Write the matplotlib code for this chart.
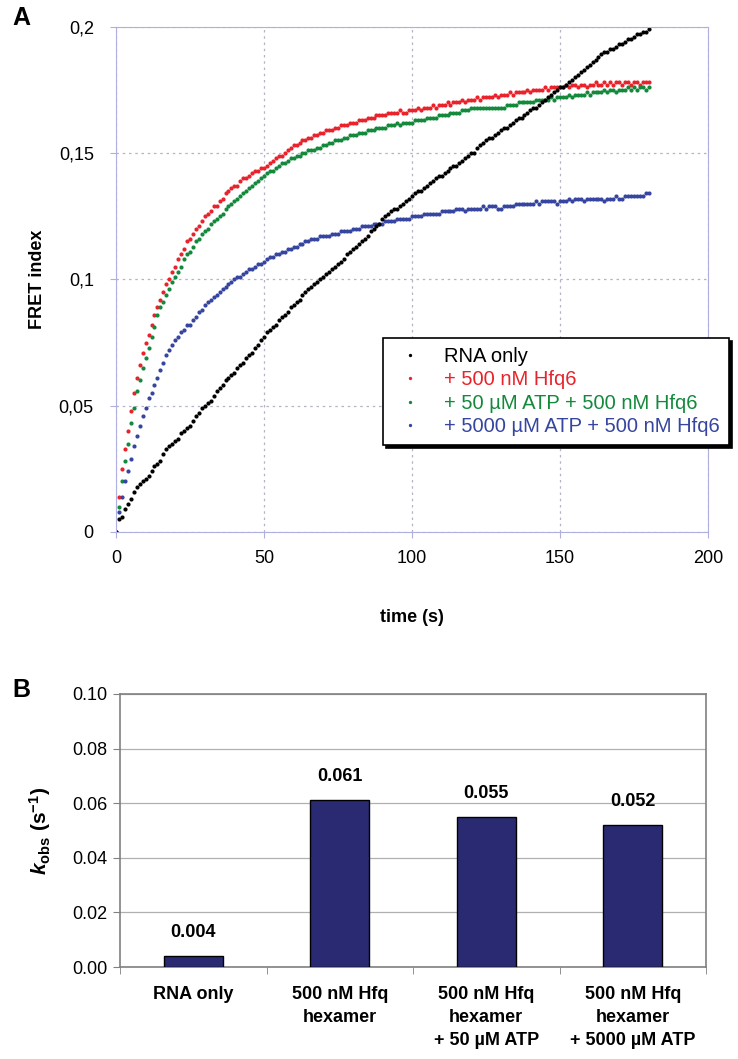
# FRET kinetics (A) and observed rate constants (B)
import numpy as np
import matplotlib.pyplot as plt
from matplotlib.ticker import FuncFormatter

plt.rcParams['font.family'] = ['Liberation Sans', 'DejaVu Sans']
plt.rcParams['mathtext.fontset'] = 'custom'
plt.rcParams['mathtext.rm'] = 'Liberation Sans'
plt.rcParams['mathtext.bf'] = 'Liberation Sans:bold'
plt.rcParams['mathtext.it'] = 'Liberation Sans:italic'
plt.rcParams['mathtext.bfit'] = 'Liberation Sans:bold:italic'

# ---- panel A data, one reading per second from 0 to 180 s
time_s = np.arange(0, 181)

rna_only = [
    0.000, 0.005, 0.006, 0.009, 0.011, 0.013, 0.016, 0.018, 0.019, 0.020,
    0.021, 0.022, 0.024, 0.026, 0.027, 0.028, 0.031, 0.033, 0.034, 0.035,
    0.036, 0.037, 0.039, 0.040, 0.041, 0.042, 0.044, 0.046, 0.047, 0.049,
    0.050, 0.051, 0.052, 0.054, 0.056, 0.057, 0.058, 0.060, 0.061, 0.062,
    0.063, 0.065, 0.066, 0.067, 0.069, 0.070, 0.071, 0.073, 0.074, 0.076,
    0.077, 0.079, 0.080, 0.081, 0.082, 0.084, 0.085, 0.086, 0.087, 0.089,
    0.090, 0.091, 0.092, 0.094, 0.095, 0.096, 0.097, 0.098, 0.099, 0.100,
    0.101, 0.102, 0.103, 0.104, 0.105, 0.106, 0.107, 0.108, 0.110, 0.111,
    0.112, 0.113, 0.114, 0.115, 0.116, 0.117, 0.119, 0.120, 0.121, 0.122,
    0.124, 0.125, 0.126, 0.127, 0.128, 0.128, 0.129, 0.130, 0.131, 0.132,
    0.133, 0.134, 0.135, 0.135, 0.136, 0.137, 0.138, 0.139, 0.140, 0.141,
    0.141, 0.142, 0.143, 0.144, 0.145, 0.145, 0.146, 0.147, 0.148, 0.149,
    0.150, 0.150, 0.152, 0.153, 0.154, 0.155, 0.156, 0.156, 0.157, 0.158,
    0.159, 0.160, 0.160, 0.161, 0.162, 0.163, 0.164, 0.164, 0.165, 0.166,
    0.167, 0.168, 0.168, 0.169, 0.170, 0.171, 0.172, 0.173, 0.174, 0.175,
    0.176, 0.176, 0.177, 0.178, 0.179, 0.180, 0.181, 0.182, 0.183, 0.184,
    0.185, 0.186, 0.187, 0.188, 0.189, 0.190, 0.190, 0.191, 0.191, 0.192,
    0.193, 0.193, 0.194, 0.195, 0.195, 0.196, 0.197, 0.197, 0.198, 0.198,
    0.199]

hfq = [
    0.000, 0.014, 0.025, 0.033, 0.040, 0.048, 0.055, 0.061, 0.066, 0.071,
    0.075, 0.078, 0.082, 0.086, 0.089, 0.092, 0.095, 0.098, 0.100, 0.103,
    0.105, 0.108, 0.110, 0.112, 0.115, 0.116, 0.118, 0.120, 0.121, 0.123,
    0.125, 0.126, 0.127, 0.129, 0.129, 0.131, 0.132, 0.134, 0.135, 0.136,
    0.137, 0.137, 0.139, 0.140, 0.140, 0.141, 0.142, 0.143, 0.143, 0.144,
    0.144, 0.145, 0.146, 0.147, 0.148, 0.149, 0.149, 0.150, 0.151, 0.152,
    0.153, 0.153, 0.154, 0.155, 0.155, 0.156, 0.156, 0.157, 0.157, 0.158,
    0.158, 0.159, 0.159, 0.159, 0.160, 0.160, 0.161, 0.161, 0.161, 0.162,
    0.162, 0.162, 0.163, 0.163, 0.163, 0.164, 0.164, 0.164, 0.165, 0.165,
    0.165, 0.165, 0.166, 0.166, 0.166, 0.166, 0.167, 0.166, 0.166, 0.167,
    0.167, 0.167, 0.168, 0.167, 0.168, 0.168, 0.168, 0.169, 0.168, 0.169,
    0.169, 0.169, 0.170, 0.169, 0.170, 0.170, 0.170, 0.171, 0.170, 0.171,
    0.171, 0.171, 0.172, 0.171, 0.172, 0.172, 0.172, 0.172, 0.173, 0.172,
    0.173, 0.173, 0.173, 0.174, 0.173, 0.174, 0.174, 0.174, 0.174, 0.175,
    0.174, 0.175, 0.175, 0.175, 0.175, 0.176, 0.175, 0.176, 0.176, 0.176,
    0.176, 0.176, 0.177, 0.176, 0.177, 0.177, 0.176, 0.177, 0.177, 0.176,
    0.177, 0.177, 0.178, 0.177, 0.177, 0.178, 0.177, 0.178, 0.177, 0.178,
    0.178, 0.177, 0.178, 0.178, 0.177, 0.178, 0.178, 0.177, 0.178, 0.178,
    0.178]

hfq_atp50 = [
    0.000, 0.010, 0.020, 0.028, 0.035, 0.043, 0.049, 0.056, 0.060, 0.065,
    0.069, 0.073, 0.077, 0.081, 0.086, 0.089, 0.091, 0.094, 0.096, 0.099,
    0.101, 0.103, 0.105, 0.108, 0.110, 0.111, 0.113, 0.115, 0.116, 0.118,
    0.119, 0.120, 0.122, 0.123, 0.124, 0.125, 0.126, 0.128, 0.129, 0.130,
    0.131, 0.132, 0.133, 0.134, 0.135, 0.136, 0.137, 0.138, 0.139, 0.140,
    0.141, 0.142, 0.143, 0.143, 0.144, 0.145, 0.146, 0.146, 0.147, 0.148,
    0.148, 0.149, 0.149, 0.150, 0.150, 0.151, 0.151, 0.151, 0.152, 0.152,
    0.153, 0.153, 0.154, 0.154, 0.155, 0.155, 0.155, 0.156, 0.156, 0.157,
    0.157, 0.157, 0.158, 0.158, 0.158, 0.159, 0.159, 0.159, 0.160, 0.160,
    0.160, 0.160, 0.161, 0.161, 0.161, 0.162, 0.161, 0.162, 0.162, 0.162,
    0.162, 0.163, 0.163, 0.163, 0.163, 0.164, 0.164, 0.164, 0.164, 0.165,
    0.165, 0.165, 0.165, 0.166, 0.166, 0.166, 0.166, 0.167, 0.167, 0.167,
    0.168, 0.168, 0.168, 0.168, 0.168, 0.168, 0.168, 0.168, 0.168, 0.168,
    0.168, 0.168, 0.169, 0.169, 0.169, 0.169, 0.170, 0.170, 0.170, 0.170,
    0.170, 0.170, 0.171, 0.171, 0.171, 0.171, 0.171, 0.172, 0.171, 0.172,
    0.172, 0.172, 0.172, 0.173, 0.172, 0.173, 0.173, 0.173, 0.173, 0.174,
    0.173, 0.174, 0.174, 0.174, 0.174, 0.175, 0.174, 0.175, 0.175, 0.174,
    0.175, 0.175, 0.175, 0.176, 0.175, 0.176, 0.175, 0.176, 0.176, 0.175,
    0.176]

hfq_atp5000 = [
    0.000, 0.008, 0.014, 0.020, 0.024, 0.029, 0.034, 0.038, 0.042, 0.046,
    0.049, 0.053, 0.055, 0.058, 0.061, 0.064, 0.067, 0.070, 0.072, 0.074,
    0.076, 0.077, 0.079, 0.080, 0.082, 0.082, 0.084, 0.085, 0.087, 0.088,
    0.090, 0.091, 0.092, 0.093, 0.094, 0.095, 0.096, 0.097, 0.098, 0.099,
    0.100, 0.101, 0.101, 0.102, 0.103, 0.104, 0.104, 0.105, 0.106, 0.106,
    0.107, 0.108, 0.109, 0.109, 0.110, 0.110, 0.111, 0.111, 0.112, 0.112,
    0.113, 0.113, 0.114, 0.114, 0.115, 0.115, 0.116, 0.116, 0.116, 0.117,
    0.117, 0.117, 0.117, 0.118, 0.118, 0.118, 0.119, 0.119, 0.119, 0.119,
    0.120, 0.120, 0.120, 0.121, 0.121, 0.121, 0.121, 0.122, 0.122, 0.122,
    0.122, 0.123, 0.123, 0.123, 0.123, 0.124, 0.124, 0.124, 0.124, 0.124,
    0.125, 0.125, 0.125, 0.125, 0.126, 0.126, 0.126, 0.126, 0.126, 0.126,
    0.127, 0.127, 0.127, 0.127, 0.127, 0.128, 0.128, 0.128, 0.127, 0.128,
    0.128, 0.128, 0.128, 0.128, 0.129, 0.128, 0.129, 0.129, 0.129, 0.128,
    0.128, 0.129, 0.129, 0.129, 0.129, 0.130, 0.130, 0.130, 0.130, 0.130,
    0.130, 0.130, 0.131, 0.130, 0.131, 0.131, 0.131, 0.131, 0.131, 0.130,
    0.131, 0.131, 0.131, 0.132, 0.131, 0.132, 0.132, 0.132, 0.131, 0.132,
    0.132, 0.132, 0.132, 0.132, 0.132, 0.131, 0.132, 0.132, 0.132, 0.133,
    0.132, 0.132, 0.133, 0.133, 0.133, 0.133, 0.133, 0.133, 0.133, 0.134,
    0.134]

series_labels = ['RNA only', '+ 500 nM Hfq6', '+ 50 µM ATP + 500 nM Hfq6',
                 '+ 5000 µM ATP + 500 nM Hfq6']
series_colors = ['#000000', '#e8232b', '#14893c', '#3545a0']

# ---- panel B data
conditions = ['RNA only', '500 nM Hfq\nhexamer',
              '500 nM Hfq\nhexamer\n+ 50 µM ATP',
              '500 nM Hfq\nhexamer\n+ 5000 µM ATP']
k_obs = [0.004, 0.061, 0.055, 0.052]

W, H = 738, 1059
fig = plt.figure(figsize=(W/100, H/100), dpi=100)

# panel A
axA = fig.add_axes([116/W, 1-532/H, 592/W, 505.3/H])
handles = {}
for y, lab, col in zip([hfq, hfq_atp50, hfq_atp5000, rna_only],
                       series_labels[1:] + series_labels[:1],
                       series_colors[1:] + series_colors[:1]):
    h, = axA.plot(time_s, y, 'o', ms=3.0, color=col, mec='none', label=lab)
    handles[lab] = h

axA.set_xlim(0, 200)
axA.set_ylim(0, 0.2)
axA.set_xticks([0, 50, 100, 150, 200])
axA.set_yticks([0, 0.05, 0.1, 0.15, 0.2])
axA.yaxis.set_major_formatter(FuncFormatter(
    lambda v, p: '0' if v == 0 else ('%g' % round(v, 3)).replace('.', ',')))
axA.grid(True, color='#b4b4c8', linestyle=(0, (2, 3)), linewidth=0.9)
axA.set_axisbelow(True)
for s in axA.spines.values():
    s.set_color('#b0b0e0')
axA.tick_params(labelsize=13, length=4, color='#b0b0e0', pad=12)
axA.tick_params(axis='x', pad=9)
axA.set_ylabel('FRET index', fontsize=13, fontweight='bold', labelpad=9)
axA.set_xlabel('time (s)', fontsize=13, fontweight='bold', labelpad=30)

leg = axA.legend([handles[l] for l in series_labels], series_labels,
                 loc='upper left', bbox_to_anchor=(383/W, 1-338/H),
                 bbox_transform=fig.transFigure, fontsize=14.5,
                 fancybox=False, edgecolor='black', framealpha=1,
                 handlelength=1.8, handletextpad=0.8, borderpad=0.45,
                 labelspacing=0.22, markerscale=0.8, borderaxespad=0,
                 shadow={'color': 'black', 'alpha': 1})
leg.get_frame().set_linewidth(1.2)
for txt, col in zip(leg.get_texts(), series_colors):
    txt.set_color(col)

fig.text(12/W, 1-18/H, 'A', fontsize=18, fontweight='bold', va='center')

# panel B
axB = fig.add_axes([120/W, 1-967/H, 586/W, 273/H])
xpos = np.arange(len(conditions))
axB.bar(xpos, k_obs, width=0.405, color='#2a2a72', edgecolor='black',
        linewidth=1, zorder=3)
for xi, v in zip(xpos, k_obs):
    axB.annotate('%.3f' % v, (xi, v), xytext=(0, 11),
                 textcoords='offset points', ha='center', va='bottom',
                 fontsize=13, fontweight='bold')
axB.set_xlim(-0.5, len(conditions) - 0.5)
axB.set_ylim(0, 0.1)
axB.set_yticks(np.arange(0, 0.101, 0.02))
axB.yaxis.set_major_formatter(FuncFormatter(lambda v, p: '%.2f' % v))
axB.grid(True, axis='y', color='#b0b0b0', linewidth=0.9)
axB.set_axisbelow(True)
for s in axB.spines.values():
    s.set_color('#808080')
    s.set_linewidth(1.2)
axB.set_xticks(xpos)
axB.set_xticklabels(conditions, fontsize=13, fontweight='bold',
                    linespacing=1.45, va='top')
axB.tick_params(axis='x', length=0, pad=14)
axB.set_xticks(np.arange(-0.5, len(conditions)), minor=True)
axB.tick_params(axis='x', which='minor', length=5, color='#808080')
axB.tick_params(axis='y', labelsize=13, length=5, color='#808080', pad=4)
axB.set_ylabel(r'$\mathbfit{k}_{\mathbf{obs}}\ \mathbf{(s^{-1})}$',
               fontsize=15, labelpad=14)

fig.text(12/W, 1-690/H, 'B', fontsize=18, fontweight='bold', va='center')

fig.savefig('out.png', dpi=100)
